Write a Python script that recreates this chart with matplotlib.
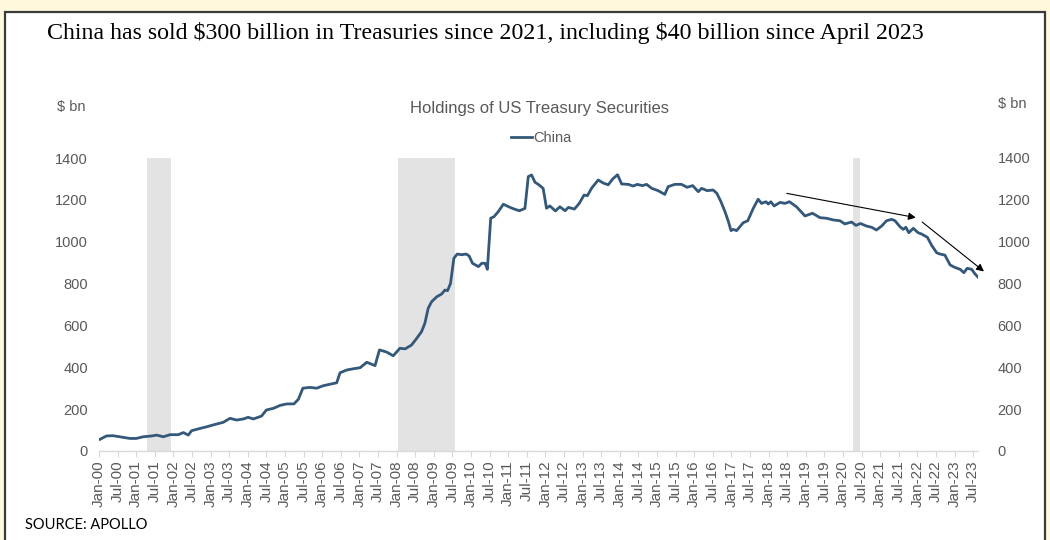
import matplotlib
matplotlib.use("Agg")
import matplotlib.pyplot as plt
from matplotlib.patches import Rectangle

# China's holdings of US Treasuries, $ bn (decimal year, value)
years = [
    2000.03, 2000.20, 2000.38, 2000.56, 2000.83, 2001.00, 2001.19, 2001.42, 2001.55, 2001.73,
    2001.91, 2002.13, 2002.27, 2002.40, 2002.49, 2002.72, 2002.90, 2003.12, 2003.34, 2003.52,
    2003.70, 2003.88, 2004.01, 2004.15, 2004.37, 2004.50, 2004.69, 2004.87, 2005.05, 2005.24,
    2005.36, 2005.48, 2005.67, 2005.85, 2006.03, 2006.39, 2006.48, 2006.66, 2006.84, 2007.02,
    2007.20, 2007.42, 2007.54, 2007.73, 2007.91, 2008.09, 2008.23, 2008.40, 2008.54, 2008.67,
    2008.76, 2008.85, 2008.94, 2009.08, 2009.21, 2009.30, 2009.37, 2009.45, 2009.54, 2009.63,
    2009.75, 2009.87, 2009.95, 2010.04, 2010.20, 2010.29, 2010.38, 2010.44, 2010.53, 2010.62,
    2010.73, 2010.87, 2011.05, 2011.18, 2011.30, 2011.45, 2011.54, 2011.63, 2011.72, 2011.81,
    2011.94, 2012.03, 2012.12, 2012.27, 2012.39, 2012.53, 2012.62, 2012.78, 2012.91, 2013.04,
    2013.13, 2013.24, 2013.42, 2013.56, 2013.69, 2013.81, 2013.94, 2014.05, 2014.23, 2014.36,
    2014.47, 2014.61, 2014.72, 2014.86, 2015.03, 2015.21, 2015.30, 2015.48, 2015.66, 2015.81,
    2015.96, 2016.11, 2016.20, 2016.35, 2016.51, 2016.61, 2016.72, 2016.83, 2016.92, 2016.99,
    2017.05, 2017.14, 2017.32, 2017.44, 2017.59, 2017.72, 2017.81, 2017.93, 2017.99, 2018.06,
    2018.15, 2018.31, 2018.44, 2018.56, 2018.75, 2018.98, 2019.18, 2019.38, 2019.56, 2019.74,
    2019.92, 2020.05, 2020.23, 2020.35, 2020.47, 2020.63, 2020.77, 2020.90, 2021.04, 2021.17,
    2021.31, 2021.40, 2021.53, 2021.62, 2021.69, 2021.77, 2021.89, 2022.02, 2022.11, 2022.27,
    2022.38, 2022.52, 2022.61, 2022.74, 2022.88, 2023.01, 2023.15, 2023.25, 2023.34, 2023.46,
    2023.55, 2023.66,
]
holdings = [
    56, 72, 73, 68, 60, 60, 68, 72, 76, 68,
    78, 78, 88, 76, 97, 108, 116, 127, 137, 156,
    148, 153, 161, 153, 167, 196, 204, 218, 225, 225,
    247, 300, 304, 300, 312, 326, 374, 387, 393, 398,
    424, 408, 483, 473, 455, 491, 488, 506, 538, 570,
    610, 682, 713, 737, 750, 769, 766, 801, 921, 941,
    938, 941, 932, 897, 881, 897, 897, 868, 1112, 1120,
    1143, 1179, 1164, 1155, 1148, 1159, 1311, 1319, 1284, 1274,
    1255, 1160, 1171, 1147, 1167, 1148, 1164, 1156, 1183, 1223,
    1220, 1255, 1295, 1280, 1272, 1300, 1320, 1276, 1274, 1266,
    1274, 1268, 1274, 1255, 1244, 1226, 1263, 1274, 1274, 1260,
    1268, 1239, 1255, 1244, 1247, 1231, 1191, 1143, 1096, 1053,
    1059, 1053, 1091, 1100, 1160, 1203, 1183, 1191, 1180, 1191,
    1171, 1188, 1183, 1191, 1167, 1123, 1136, 1115, 1112, 1104,
    1100, 1085, 1094, 1078, 1087, 1075, 1069, 1056, 1075, 1100,
    1107, 1100, 1072, 1059, 1069, 1043, 1064, 1043, 1037, 1021,
    984, 947, 941, 936, 889, 877, 868, 852, 873, 868,
    846, 825,
]

# US recessions (start, end) in decimal years
recessions = [(2001.30, 2001.94), (2008.05, 2009.57), (2020.28, 2020.46)]

# trend arrows ((x0, y0), (x1, y1))
trend_arrows = [((2018.49, 1231), (2021.96, 1115)),
                ((2022.13, 1094), (2023.79, 858))]

tick_pos = [2000 + 0.5 * i for i in range(48)]
tick_labels = [("Jan-" if i % 2 == 0 else "Jul-") + f"{(i // 2):02d}" for i in range(48)]

line_col = "#34587A"
grey_txt = "#595959"
sans = "Liberation Sans"

fig = plt.figure(figsize=(10.5, 5.4), dpi=100)
fig.patch.set_facecolor("#FFF8DC")

# white panel with dark border, kept behind the axes
panel = Rectangle((5 / 1050, -0.02), 1040 / 1050, 1 - 12 / 540 + 0.02,
                  transform=fig.transFigure, facecolor="white",
                  edgecolor="#3A3A3A", linewidth=1.6, zorder=-10)
fig.patches.append(panel)

ax = fig.add_axes([99 / 1050, 1 - 451 / 540, (978 - 99) / 1050, (451 - 158) / 540])
ax.set_facecolor("none")

for x0, x1 in recessions:
    ax.axvspan(x0, x1, color="#E3E3E3", lw=0, zorder=1)

ax.plot(years, holdings, color=line_col, lw=2.0, zorder=3, label="China")

for (x0, y0), (x1, y1) in trend_arrows:
    ax.annotate("", xy=(x1, y1), xytext=(x0, y0), annotation_clip=False,
                arrowprops=dict(arrowstyle="-|>", color="black", lw=0.8,
                                mutation_scale=11, shrinkA=0, shrinkB=0), zorder=4)

ax.set_xlim(2000, 2023.63)
ax.set_ylim(0, 1400)

for s in ["top", "left", "right"]:
    ax.spines[s].set_visible(False)
ax.spines["bottom"].set_color("#D9D9D9")
ax.spines["bottom"].set_linewidth(1.0)

ax.set_xticks(tick_pos)
ax.set_xticklabels(tick_labels, rotation=90, fontsize=11, color=grey_txt, family=sans)
ax.tick_params(axis="x", length=4, color="#D9D9D9", pad=3)

yt = list(range(0, 1401, 200))
ax.set_yticks(yt)
ax.set_yticklabels([str(v) for v in yt], fontsize=10.5, color=grey_txt, family=sans)
ax.tick_params(axis="y", length=0, pad=8)

ax2 = ax.twinx()
ax2.set_ylim(0, 1400)
ax2.set_yticks(yt)
ax2.set_yticklabels([str(v) for v in yt], fontsize=10.5, color=grey_txt, family=sans)
ax2.tick_params(axis="y", length=0, pad=14)
for s in ax2.spines.values():
    s.set_visible(False)

fig.text(47 / 1050, 1 - 33 / 540, r"China has sold \$300 billion in Treasuries since 2021, including \$40 billion since April 2023",
         family="Liberation Serif", fontsize=17.2, color="black", va="center", ha="left")
fig.text(539 / 1050, 1 - 108 / 540, "Holdings of US Treasury Securities",
         family=sans, fontsize=12, color=grey_txt, ha="center", va="center")
fig.text(57 / 1050, 1 - 107 / 540, r"\$ bn", family=sans, fontsize=10.5,
         color=grey_txt, ha="left", va="center")
fig.text(998 / 1050, 1 - 104 / 540, r"\$ bn", family=sans, fontsize=10.5,
         color=grey_txt, ha="left", va="center")

leg = ax.legend(loc="center", bbox_to_anchor=(541 / 1050, 1 - 138 / 540),
                bbox_transform=fig.transFigure, frameon=False, handlelength=1.5,
                handletextpad=0.05, prop={"family": sans, "size": 10.5})
for t in leg.get_texts():
    t.set_color(grey_txt)

fig.text(25 / 1050, 1 - 525 / 540, "SOURCE: APOLLO", family="Lato", fontsize=10.5,
         color="black", ha="left", va="center")

fig.savefig("out.png", dpi=100, facecolor=fig.get_facecolor())
